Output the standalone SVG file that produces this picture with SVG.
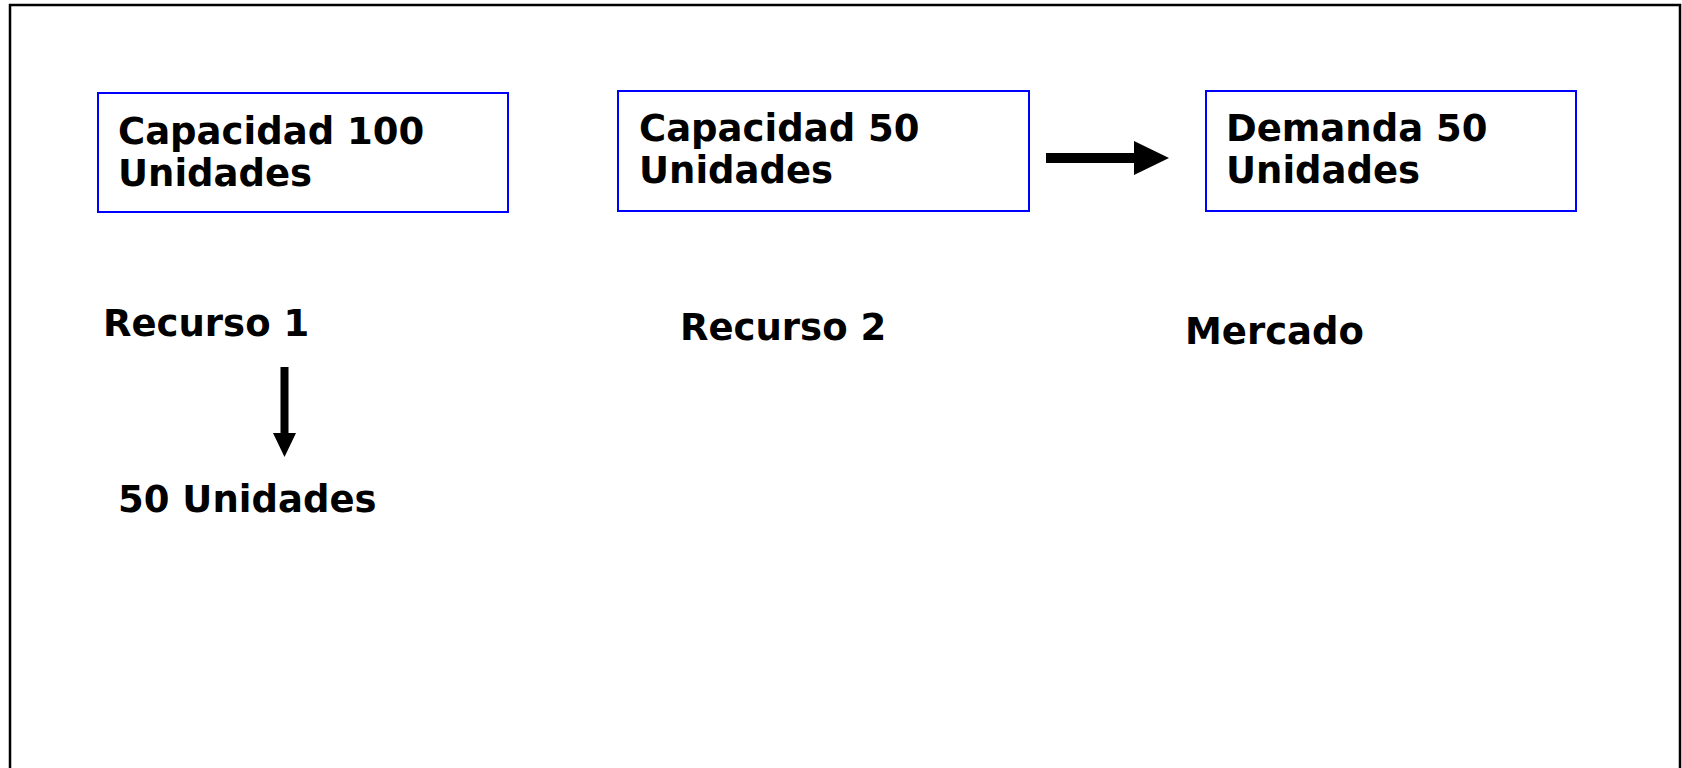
<svg xmlns="http://www.w3.org/2000/svg" width="1682" height="768" viewBox="0 0 1682 768">
  <style>
    .frame { fill: none; stroke: #000; stroke-width: 2.5; }
    .box { fill: #fff; stroke: #0000ff; stroke-width: 2; }
    .lbl { font-family: "DejaVu Sans", Verdana, sans-serif; font-weight: bold; font-size: 37px; fill: #000; }
    .arrow { fill: #000; stroke: none; }
  </style>
  <rect x="0" y="0" width="1682" height="768" fill="#fff"/>
  <!-- open frame: left, top and right edges -->
  <path class="frame" d="M10,768 V5 H1680 V768"/>

  <g id="recurso1">
    <rect class="box" x="98" y="93" width="410" height="119"/>
    <text class="lbl" x="118" y="144">Capacidad 100</text>
    <text class="lbl" x="118" y="186">Unidades</text>
    <text class="lbl" x="103" y="336">Recurso 1</text>
  </g>

  <g id="recurso2">
    <rect class="box" x="618" y="91" width="411" height="120"/>
    <text class="lbl" x="639" y="141">Capacidad 50</text>
    <text class="lbl" x="639" y="183">Unidades</text>
    <text class="lbl" x="680" y="340">Recurso 2</text>
  </g>

  <g id="mercado">
    <rect class="box" x="1206" y="91" width="370" height="120"/>
    <text class="lbl" x="1226" y="141">Demanda 50</text>
    <text class="lbl" x="1226" y="183">Unidades</text>
    <text class="lbl" x="1185" y="344">Mercado</text>
  </g>

  <g id="salida">
    <text class="lbl" x="118" y="512">50 Unidades</text>
  </g>

  <g id="connectors">
    <!-- Recurso 2 to Mercado -->
    <path class="arrow" d="M1046,153 H1134 V141 L1169,158 L1134,175 V163 H1046 Z"/>
    <!-- Recurso 1 down to its output -->
    <path class="arrow" d="M280.5,367 H288.5 V433 H296 L284.5,457 L273,433 H280.5 Z"/>
  </g>
</svg>
